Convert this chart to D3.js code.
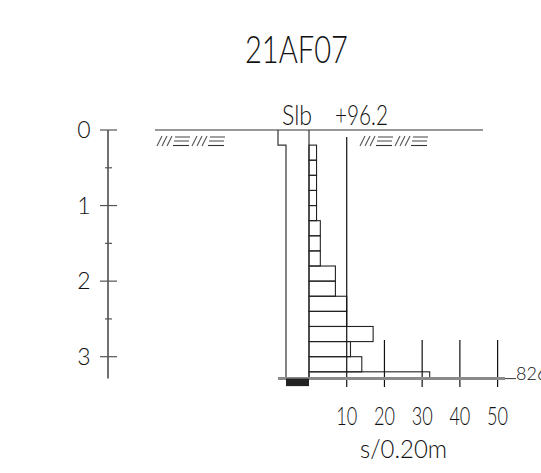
<!DOCTYPE html>
<html>
<head>
<meta charset="utf-8">
<script src="https://cdn.jsdelivr.net/npm/d3@7"></script>
<style>
  body { margin: 0; background: #fff; }
  text { font-family: "Lato", "DejaVu Sans Condensed", sans-serif; font-weight: 300; fill: #111; }
</style>
</head>
<body>
<script>
// Sounding point
var pointName = "21AF07";
var methodCode = "Slb";
var groundLevel = "+96.2";
var stopCode = "826";
var stopDepth = 3.29;

// blows per 0.20 m, top of each interval (m)
var depthTop = [0.2, 0.4, 0.6, 0.8, 1.0, 1.2, 1.4, 1.6, 1.8, 2.0, 2.2, 2.4, 2.6, 2.8, 3.0, 3.2];
var blows    = [2,   2,   2,   2,   2,   3,   3,   3,   7,   7,   10,  10,  17,  11,  14,  32];

var depthTicks = [0, 1, 2, 3];
var depthMinor = [0.5, 1.5, 2.5];
var blowTicks = [10, 20, 30, 40, 50];
var blowUnit = "s/0.20m";

var width = 541, height = 473;

var svg = d3.select("body").append("svg")
  .attr("width", width)
  .attr("height", height);

// depth -> y, blows -> x
var y = d3.scaleLinear().domain([0, 3]).range([130, 356.7]);
var x = d3.scaleLinear().domain([0, 50]).range([309, 497.6]);

// squeeze text to the narrow drawing font
function label(tx, ty, size, str, len, anchor) {
  var t = svg.append("text")
    .attr("x", tx).attr("y", ty)
    .attr("text-anchor", anchor || "start")
    .style("font-size", size + "px")
    .text(str);
  if (len) t.attr("textLength", len).attr("lengthAdjust", "spacingAndGlyphs");
  return t;
}

// title
label(296.5, 63, 38, pointName, 103, "middle");

// method + ground level
label(282, 125, 27, methodCode, 30);
label(335, 125, 27, groundLevel, 53);

// depth axis
var axisX = 108;
svg.append("line")
  .attr("x1", axisX).attr("x2", axisX)
  .attr("y1", y(0)).attr("y2", y(stopDepth))
  .attr("stroke", "#111").attr("stroke-width", 1.2);
svg.selectAll(".dmaj").data(depthTicks).enter().append("line")
  .attr("x1", axisX - 8).attr("x2", axisX + 9)
  .attr("y1", d => y(d)).attr("y2", d => y(d))
  .attr("stroke", "#555").attr("stroke-width", 1.2);
svg.selectAll(".dmin").data(depthMinor).enter().append("line")
  .attr("x1", axisX - 3).attr("x2", axisX + 4)
  .attr("y1", d => y(d)).attr("y2", d => y(d))
  .attr("stroke", "#555").attr("stroke-width", 1.2);
svg.selectAll(".dlab").data(depthTicks).enter().append("text")
  .attr("x", 84).attr("y", d => y(d) + 8)
  .attr("text-anchor", "middle")
  .style("font-size", "23px")
  .text(d => d);

// ground surface
svg.append("line")
  .attr("x1", 155).attr("x2", 483)
  .attr("y1", y(0)).attr("y2", y(0))
  .attr("stroke", "#333").attr("stroke-width", 1.2);

// surface hatch ///=///=
function hatch(x0) {
  var g = svg.append("g").attr("stroke", "#555").attr("stroke-width", 1.1).attr("fill", "none");
  [0, 35].forEach(function(off) {
    var s = x0 + off;
    [0, 5, 10].forEach(function(k) {
      g.append("line").attr("x1", s + k).attr("y1", 146).attr("x2", s + k + 5).attr("y2", 136);
    });
    g.append("line").attr("x1", s + 18).attr("x2", s + 33).attr("y1", 137).attr("y2", 137);
    g.append("line").attr("x1", s + 17).attr("x2", s + 32).attr("y1", 141).attr("y2", 141);
    g.append("line").attr("x1", s + 16).attr("x2", s + 32).attr("y1", 145.5).attr("y2", 145.5)
      .attr("stroke", "#333");
  });
}
hatch(157);
hatch(360);

// bore column
svg.append("path")
  .attr("d", "M278," + y(0) + "V" + y(0.2) + "H286V" + y(stopDepth))
  .attr("fill", "none").attr("stroke", "#333").attr("stroke-width", 1.2);
svg.append("line")
  .attr("x1", x(0)).attr("x2", x(0))
  .attr("y1", y(0)).attr("y2", y(stopDepth))
  .attr("stroke", "#333").attr("stroke-width", 1.2);

// bars
svg.selectAll(".bar").data(blows).enter().append("rect")
  .attr("x", x(0))
  .attr("y", (d, i) => y(depthTop[i]))
  .attr("width", d => x(d) - x(0))
  .attr("height", (d, i) => y(Math.min(depthTop[i] + 0.2, stopDepth)) - y(depthTop[i]))
  .attr("fill", "none")
  .attr("stroke", "#222").attr("stroke-width", 1.1);

// blow ticks
svg.selectAll(".btick").data(blowTicks).enter().append("line")
  .attr("x1", d => x(d)).attr("x2", d => x(d))
  .attr("y1", d => d === 10 ? 137 : 340)
  .attr("y2", 387)
  .attr("stroke", "#111").attr("stroke-width", 1.2);
svg.selectAll(".blab").data(blowTicks).enter().append("text")
  .attr("x", d => x(d)).attr("y", 425)
  .attr("text-anchor", "middle")
  .attr("textLength", 21).attr("lengthAdjust", "spacingAndGlyphs")
  .style("font-size", "25px")
  .text(d => d);
label(403.5, 458, 25, blowUnit, 87, "middle");

// stop line + code
svg.append("line")
  .attr("x1", 278).attr("x2", 505)
  .attr("y1", y(stopDepth)).attr("y2", y(stopDepth))
  .attr("stroke", "#8a8a8a").attr("stroke-width", 3);
svg.append("line")
  .attr("x1", 505).attr("x2", 516)
  .attr("y1", y(stopDepth)).attr("y2", y(stopDepth))
  .attr("stroke", "#333").attr("stroke-width", 1);
svg.append("rect")
  .attr("x", 286).attr("y", y(stopDepth))
  .attr("width", x(0) - 286).attr("height", 7.5)
  .attr("fill", "#222");
label(516, y(stopDepth) + 1, 18, stopCode);
</script>
</body>
</html>
